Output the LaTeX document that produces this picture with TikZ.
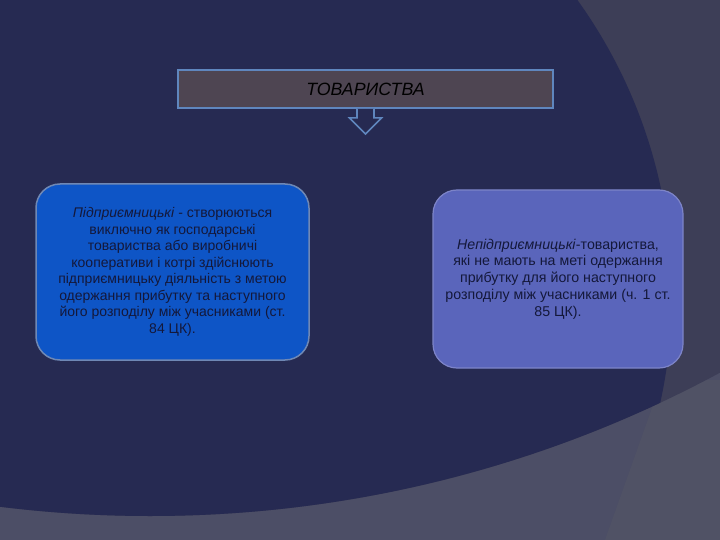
\documentclass[tikz,border=0pt]{standalone}
\usepackage{fontspec}
\setmainfont{Liberation Sans}
\definecolor{navy}{HTML}{262A52}
\definecolor{topgray}{HTML}{3D3E57}
\definecolor{lowgray}{HTML}{4C4E66}
\definecolor{lowgraytwo}{HTML}{505265}
\definecolor{titlefill}{HTML}{4E4552}
\definecolor{titleborder}{HTML}{5F86BE}
\definecolor{leftfill}{HTML}{0E55C6}
\definecolor{leftborder}{HTML}{6F88B5}
\definecolor{rightfill}{HTML}{5A65BB}
\definecolor{rightborder}{HTML}{7D84C8}
\definecolor{txt}{HTML}{14183A}
\begin{document}
\begin{tikzpicture}[x=1pt,y=-1pt,
  titlebox/.style={draw=titleborder, line width=1.8pt, fill=titlefill,
    minimum width=375pt, minimum height=38pt, inner sep=0pt,
    font=\fontsize{17.8}{20}\selectfont\itshape, text=black},
  blockarrow/.style={draw=titleborder, line width=1.6pt, fill=navy, line join=miter},
  leftbox/.style={draw=leftborder, line width=1.5pt, fill=leftfill, rounded corners=24pt,
    minimum width=273pt, minimum height=176pt, align=center, text=txt,
    font=\fontsize{14}{16.5}\selectfont},
  rightbox/.style={draw=rightborder, line width=1.2pt, fill=rightfill, rounded corners=24pt,
    minimum width=250pt, minimum height=178pt, align=center, text=txt,
    font=\fontsize{14.2}{16.8}\selectfont}]
\useasboundingbox (0,0) rectangle (720,540);
% background
\fill[lowgray] (0,0) rectangle (720,540);
\fill[lowgraytwo] (662,380) -- (720,380) -- (720,540) -- (605,540) -- cycle;
\begin{scope}
  \clip (0,0) rectangle (720,540);
  \fill[topgray] (150,-687) circle (1203pt);
  \clip (150,-687) circle (1203pt);
  \fill[navy] (168,294) circle (504pt);
\end{scope}
% title and arrow
\node[titlebox] (title) at (365.5,89) {\raisebox{-3pt}{ТОВАРИСТВА}};
\draw[blockarrow, shift={(title.south)}]
  (-8.5,0) -- (-8.5,9) -- (-16,9) -- (0,25) -- (16,9) -- (8.5,9) -- (8.5,0);
% boxes
\node[leftbox] (left) at (172.5,272) {\textit{Підприємницькі} - створюються\\
виключно як господарські\\
товариства або виробничі\\
кооперативи і котрі здійснюють\\
підприємницьку діяльність з метою\\
одержання прибутку та наступного\\
його розподілу між учасниками (ст.\\
84 ЦК).};
\node[rightbox] (right) at (558,279) {\textit{Непідприємницькі}-товариства,\\
які не мають на меті одержання\\
прибутку для його наступного\\
розподілу між учасниками (ч. 1 ст.\\
85 ЦК).};
\end{tikzpicture}
\end{document}
